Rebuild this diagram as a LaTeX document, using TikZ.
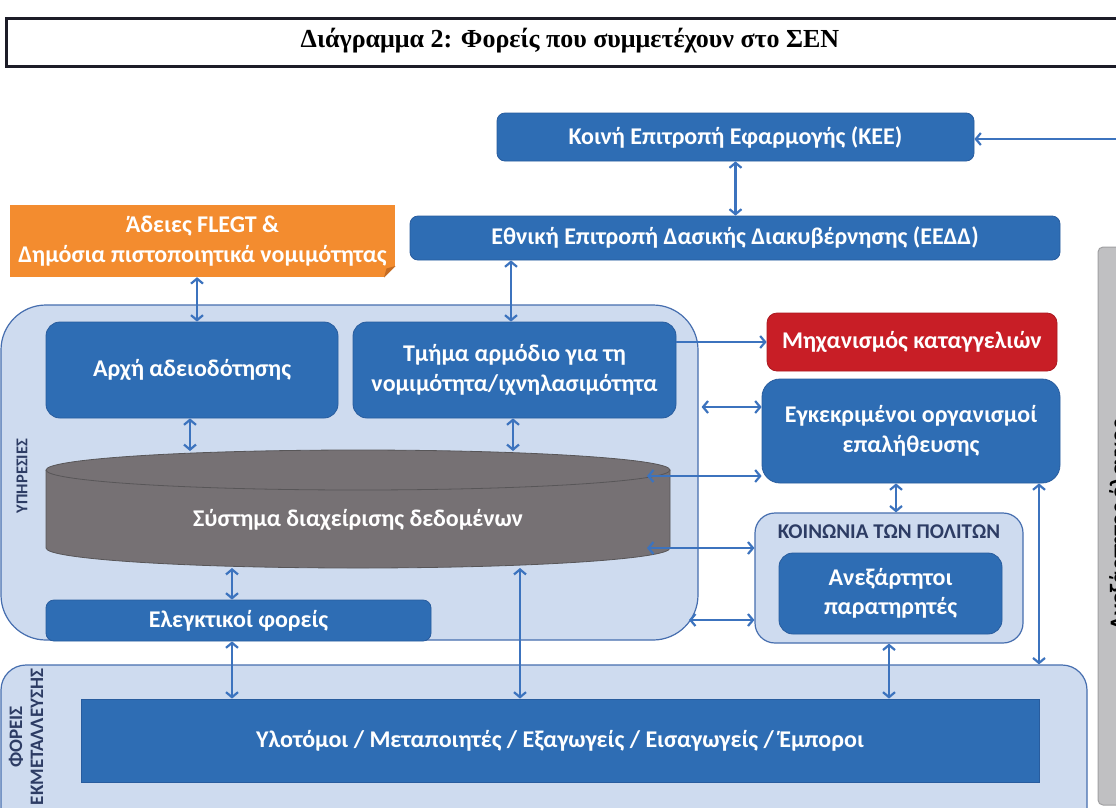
\documentclass[tikz,border=0pt]{standalone}
\usepackage{fontspec}
\setmainfont{Carlito}
\newfontfamily\titlefont{Liberation Serif}
\usetikzlibrary{arrows.meta,calc}
\definecolor{arrblue}{RGB}{60,115,190}
\definecolor{boxblue}{RGB}{46,109,180}
\definecolor{boxborder}{RGB}{40,92,158}
\definecolor{contfill}{RGB}{206,219,239}
\definecolor{contborder}{RGB}{70,110,175}
\definecolor{orangefill}{RGB}{243,140,47}
\definecolor{orangedark}{RGB}{196,108,36}
\definecolor{redfill}{RGB}{200,30,38}
\definecolor{dbgray}{RGB}{118,113,116}
\definecolor{dbborder}{RGB}{88,86,88}
\definecolor{grayfill}{RGB}{192,192,194}
\definecolor{grayborder}{RGB}{160,160,162}
\definecolor{labeldark}{RGB}{45,60,100}
\definecolor{titleborder}{RGB}{28,28,40}
\tikzset{
  boxfont/.style={font=\fontsize{24}{29.5}\selectfont\bfseries},
  bluebox/.style={draw=boxborder, fill=boxblue, line width=0.8pt, text=white, boxfont, align=center, inner sep=0pt, rounded corners=12pt},
  container/.style={draw=contborder, fill=contfill, line width=1.2pt, inner sep=0pt},
  darr/.style={draw=arrblue, line width=2.2pt, {Straight Barb[length=5pt,width=12pt]}-{Straight Barb[length=5pt,width=12pt]}},
  rarr/.style={draw=arrblue, line width=2.2pt, -{Straight Barb[length=5pt,width=12pt]}},
  sidelabel/.style={text=labeldark, font=\fontsize{19}{21}\selectfont\bfseries, align=center, inner sep=0pt}
}
\begin{document}
\begin{tikzpicture}[x=1pt,y=-1pt]
\useasboundingbox (0,0) rectangle (1116,807);
\clip (0,0) rectangle (1116,807);
\fill[white] (0,0) rectangle (1116,807);

% title
\node[draw=titleborder, line width=3pt, minimum width=1114pt, minimum height=48pt, inner sep=0pt] (title) at (563,42) {};
\node[inner sep=0pt, font=\titlefont\fontsize{26}{28}\selectfont\bfseries] (titletext) at (570,41)
  {Διάγραμμα 2: Φορείς που συμμετέχουν στο ΣΕΝ};

% containers
\node[container, rounded corners=45pt, minimum width=697pt, minimum height=335pt] (svc) at (349.5,472.5) {};
\node[container, rounded corners=25pt, minimum width=1086pt, minimum height=175pt] (prodbox) at (544,752.5) {};
\node[container, rounded corners=20pt, minimum width=268pt, minimum height=130pt] (koin) at (889,578) {};
\node[draw=grayborder, fill=grayfill, line width=1pt, rounded corners=5pt, minimum width=50pt, minimum height=558pt, inner sep=0pt] (graybox) at (1123,526) {};

% side labels
\node[sidelabel, rotate=90, font=\fontsize{16.5}{20}\selectfont\bfseries] (lblsvc) at (22,476) {ΥΠΗΡΕΣΙΕΣ};
\node[sidelabel, rotate=90] (lblprod) at (26,737) {ΦΟΡΕΙΣ\\ΕΚΜΕΤΑΛΛΕΥΣΗΣ};
\node[text=labeldark, font=\fontsize{21}{24}\selectfont\bfseries, inner sep=0pt] (lblkoin) at (889,532) {ΚΟΙΝΩΝΙΑ ΤΩΝ ΠΟΛΙΤΩΝ};
\node[rotate=90, anchor=north, inner sep=0pt, text=black, font=\fontsize{24}{28}\selectfont\bfseries] (lblgray) at (1109,525) {Ανεξάρτητος έλεγχος};

% top boxes
\node[bluebox, rounded corners=8pt, minimum width=477pt, minimum height=48pt] (kee) at (735.5,137) {Κοινή Επιτροπή Εφαρμογής (ΚΕΕ)};
\node[bluebox, rounded corners=8pt, minimum width=650pt, minimum height=44pt] (eedd) at (735,238) {Εθνική Επιτροπή Δασικής Διακυβέρνησης (ΕΕΔΔ)};

% orange box with folded corner
\node[fill=orangefill, minimum width=385pt, minimum height=72pt, inner sep=0pt, text=white,
      font=\fontsize{24}{30}\selectfont\bfseries, align=center] (orange) at (202.5,241)
  {Άδειες FLEGT \&\\Δημόσια πιστοποιητικά νομιμότητας};
\fill[white] (395.5,266) -- (395.5,277.5) -- (384,277.5) -- cycle;
\fill[orangedark] (395.5,266) -- (384,277.5) -- (386.5,268.5) -- cycle;

% services boxes
\node[bluebox, rounded corners=14pt, minimum width=292pt, minimum height=96pt] (arxi) at (192,370) {Αρχή αδειοδότησης};
\node[bluebox, rounded corners=14pt, minimum width=323pt, minimum height=96pt] (tmima) at (514.5,370) {Τμήμα αρμόδιο για τη\\νομιμότητα/ιχνηλασιμότητα};

% cylinder
\fill[dbgray] (46,470) -- (46,548) arc[start angle=180, end angle=360, x radius=312pt, y radius=20pt] -- (670,470) -- cycle;
\draw[dbborder, line width=0.8pt] (46,470) -- (46,548) arc[start angle=180, end angle=360, x radius=312pt, y radius=20pt] -- (670,470);
\filldraw[fill=dbgray, draw=dbborder, line width=0.8pt] (358,470) ellipse[x radius=312pt, y radius=20pt];
\node[text=white, boxfont, inner sep=0pt] (db) at (358,520) {Σύστημα διαχείρισης δεδομένων};
\coordinate (dbtopA) at (190,451);
\coordinate (dbtopB) at (513,451);
\coordinate (dbbotA) at (232,568);
\coordinate (dbbotB) at (520,568);
\coordinate (dbR1) at (647,476);
\coordinate (dbR2) at (647,548);

\node[bluebox, rounded corners=8pt, minimum width=385pt, minimum height=41pt] (elegk) at (238.5,620.5) {Ελεγκτικοί φορείς};

% right boxes
\node[bluebox, fill=redfill, draw=redfill!85!black, rounded corners=10pt, minimum width=290pt, minimum height=58pt] (mix) at (912,342) {Μηχανισμός καταγγελιών};
\node[bluebox, rounded corners=18pt, minimum width=298pt, minimum height=104pt] (egk) at (911,431) {Εγκεκριμένοι οργανισμοί\\επαλήθευσης};
\node[bluebox, rounded corners=14pt, minimum width=223pt, minimum height=81pt] (anex) at (890.5,593.5) {Ανεξάρτητοι\\παρατηρητές};

% producers
\node[bluebox, rounded corners=0pt, minimum width=958pt, minimum height=83pt] (prod) at (560,740.5) {Υλοτόμοι / Μεταποιητές / Εξαγωγείς / Εισαγωγείς / Έμποροι};

% connectors
\coordinate (edgeR) at (1120,139);
\draw[rarr] (edgeR) -- (kee.east |- edgeR);
\draw[darr] (kee.south) -- (kee.south |- eedd.north);
\draw[darr] ([xshift=-5.5pt]orange.south) -- ([xshift=5pt]arxi.north);
\draw[darr] ([xshift=-224pt]eedd.south) -- ([xshift=-3.5pt]tmima.north);
\draw[darr] ([xshift=-2pt]arxi.south) -- (dbtopA);
\draw[darr] ([xshift=-1.5pt]tmima.south) -- (dbtopB);
\draw[darr] (dbbotA) -- ([xshift=-6.5pt]elegk.north);
\draw[darr] ([xshift=-6.5pt]elegk.south) -- ([xshift=-6.5pt]elegk.south |- prod.north);
\draw[darr] (dbbotB) -- (dbbotB |- prod.north);
\draw[rarr] (tmima.east |- mix.west) -- (mix.west);
\coordinate (e407) at ([yshift=24pt]egk.west);
\draw[darr] ([xshift=3pt]svc.east |- e407) -- (e407);
\draw[darr] (dbR1) -- (egk.west |- dbR1);
\draw[darr] ([xshift=-15pt]egk.south) -- ([xshift=-15pt]egk.south |- koin.north);
\draw[darr] (dbR2) -- (koin.west |- dbR2);
\coordinate (s620) at (689,620);
\draw[darr] (s620) -- (koin.west |- s620);
\draw[darr] (koin.south) -- (koin.south |- prod.north);
\draw[darr] ([xshift=128pt]egk.south) -- ([xshift=128pt]egk.south |- prodbox.north);
\end{tikzpicture}
\end{document}
